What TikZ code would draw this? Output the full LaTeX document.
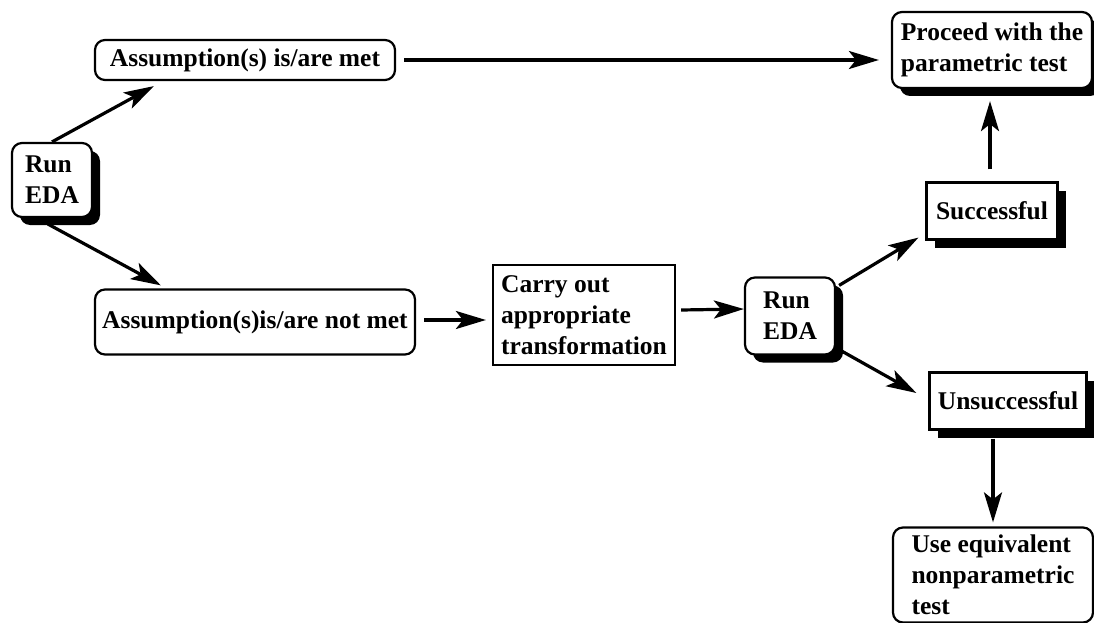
\documentclass[tikz,border=0pt]{standalone}
\usepackage{fontspec}
\setmainfont{Liberation Serif}
\usetikzlibrary{arrows.meta,shadows}

\begin{document}
\begin{tikzpicture}[x=1pt,y=-1pt,
		box/.style={draw=black,line width=2.2pt,fill=white,align=left,inner sep=4pt,
			font=\fontsize{25.5}{31}\selectfont\bfseries},
		rbox/.style={box,rounded corners=10pt},
		shade/.style={drop shadow={shadow xshift=8pt,shadow yshift=-8pt,fill=black,opacity=1}},
		arr/.style={line width=3.2pt,-{Stealth[length=30pt,width=18pt,inset=7pt]}}]
	\useasboundingbox (0,0) rectangle (1094,623);
	% boxes
	\node [rbox,shade,minimum width=80pt,minimum height=74pt] (eda1) at (52,180) {Run\\EDA};
	\node [rbox,minimum width=300pt,minimum height=40pt] (met) at (245,60) {Assumption(s) is/are met};
	\node [rbox,minimum width=320pt,minimum height=65pt] (notmet) at (255,322) {Assumption(s)is/are not met};
	\node [box,minimum width=182pt,minimum height=100pt] (carry) at (584,315) {Carry out\\appropriate\\transformation};
	\node [rbox,shade,minimum width=90pt,minimum height=77pt] (eda2) at (790,316) {Run\\EDA};
	\node [box,shade,minimum width=131pt,minimum height=57pt] (succ) at (992,211) {Successful};
	\node [box,shade,minimum width=157pt,minimum height=57pt] (unsucc) at (1008,401) {Unsuccessful};
	\node [rbox,shade,minimum width=200pt,minimum height=76pt] (proceed) at (992,50) {Proceed with the\\parametric test};
	\node [rbox,minimum width=200pt,minimum height=95pt] (useeq) at (993,575) {Use equivalent\\nonparametric\\test};
	% arrows
	\draw [arr] (eda1.north) -- ([xshift=60pt,yshift=-5pt]met.south west);
	\draw [arr] ([xshift=-4pt,yshift=-6pt]eda1.south) -- ([xshift=67pt,yshift=3pt]notmet.north west);
	\draw [arr] ([xshift=8pt]met.east) -- ([xshift=-12pt]proceed.west |- met.east);
	\draw [arr] ([xshift=8pt,yshift=2pt]notmet.east) -- ([xshift=-6pt,yshift=2pt]carry.west |- notmet.east);
	\draw [arr] ([xshift=5pt,yshift=5pt]carry.east) -- ([yshift=7pt]eda2.west);
	\draw [arr] ([xshift=3pt,yshift=-9pt]eda2.north east) -- ([xshift=-7pt,yshift=3pt]succ.south west);
	\draw [arr] ([xshift=3pt,yshift=6pt]eda2.south east) -- ([xshift=-12pt,yshift=8pt]unsucc.west);
	\draw [arr] ([xshift=-2pt,yshift=12pt]succ.north) -- ([xshift=-2pt,yshift=-12pt]proceed.south);
	\draw [arr] ([yshift=-8pt]unsucc.south -| useeq.north) -- ([yshift=4pt]useeq.north);
\end{tikzpicture}
\end{document}
